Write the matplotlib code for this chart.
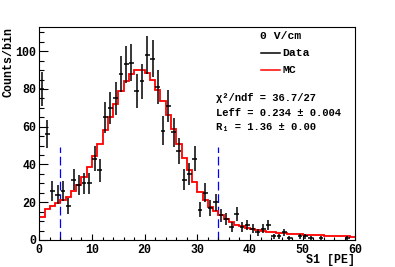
import numpy as np
import matplotlib
matplotlib.use("Agg")
import matplotlib.pyplot as plt
from matplotlib.lines import Line2D
from matplotlib.ticker import MultipleLocator

plt.rcParams['font.family'] = ['Liberation Mono', 'DejaVu Sans Mono']
plt.rcParams['font.weight'] = 'bold'

# ---- data ----
data_x = [0.5, 1.5, 2.5, 3.5, 4.5, 5.5, 6.5, 7.5, 8.5, 9.5,
          10.5, 11.5, 12.5, 13.5, 14.5, 15.5, 16.5, 17.5, 18.5, 19.5,
          20.5, 21.5, 22.5, 23.5, 24.5, 25.5, 26.5, 27.5, 28.5, 29.5,
          30.5, 31.5, 32.5, 33.5, 34.5, 35.5, 36.5, 37.5, 38.5, 39.5,
          40.5, 41.5, 42.5, 43.5, 44.5, 45.5, 46.5, 47.5, 49.5, 50.5,
          51.5, 53.5, 58.5]
data_y = [80, 56, 26, 24, 26, 18, 32, 29, 30, 30,
          43, 37, 65, 70, 75, 88, 93, 94, 79, 84,
          98, 96, 81, 58, 71, 57, 47, 32, 35, 43,
          16, 25, 17, 20, 13, 11, 7, 14, 7, 8,
          6, 4, 6, 8, 2, 2, 4, 1, 2, 2,
          1, 1, 1]
mc_edges = list(range(0, 61))
mc_y = [12.3, 16.2, 18.0, 19.4, 21.0, 22.9, 25.7, 29.0, 33.5, 38.5,
        44.4, 50.8, 58.2, 65.4, 72.3, 79.0, 84.3, 88.2, 90.2, 90.2,
        88.5, 84.7, 79.7, 73.5, 66.0, 58.6, 51.0, 43.7, 37.0, 30.9,
        25.4, 21.2, 17.6, 15.3, 13.2, 11.1, 9.7, 8.2, 7.2, 6.4,
        5.7, 5.2, 4.8, 4.4, 4.1, 3.8, 3.6, 3.4, 3.2, 3.0,
        2.8, 2.7, 2.5, 2.4, 2.3, 2.2, 2.1, 2.0, 1.9, 1.8]
cut_x = [4, 34]
cut_top = 49.5
x_ticks = [0, 10, 20, 30, 40, 50, 60]
y_ticks = [0, 20, 40, 60, 80, 100]

W, H = 395, 267
fig = plt.figure(figsize=(W / 100, H / 100), dpi=100)
ax = fig.add_axes([39.3 / W, 1 - 240 / H, 316 / W, 213.3 / H])

ax.stairs(mc_y, mc_edges, baseline=None, color='#ff0000', lw=1.3, zorder=2)
ax.errorbar(data_x, data_y, yerr=np.sqrt(data_y), xerr=0.45, fmt='none',
            ecolor='black', elinewidth=1.1, capsize=0, zorder=3)
ax.vlines(cut_x, 0, cut_top, colors='#0000ff', lw=0.9, linestyles=(0, (7, 3)), zorder=1)

ax.set_xlim(0, 60)
ax.set_ylim(0, 113)
ax.set_xticks(x_ticks)
ax.set_yticks(y_ticks)
ax.xaxis.set_minor_locator(MultipleLocator(2))
ax.yaxis.set_minor_locator(MultipleLocator(5))
ax.tick_params(axis='x', which='major', direction='in', length=6.4 * 0.72, width=0.8,
               labelsize=8.4, pad=3, top=False)
ax.tick_params(axis='x', which='minor', direction='in', length=3.2 * 0.72, width=0.8, top=False)
ax.tick_params(axis='y', which='major', direction='in', length=9 * 0.72, width=0.8,
               labelsize=8.4, pad=2, right=False)
ax.tick_params(axis='y', which='minor', direction='in', length=4.5 * 0.72, width=0.8, right=False)
for lab in ax.get_xticklabels() + ax.get_yticklabels():
    lab.set_fontweight('bold')
for s in ax.spines.values():
    s.set_linewidth(0.8)

def fx(px):
    return px / W

def fy(py):
    return 1 - py / H

fig.text(fx(9), fy(26.7), 'Counts/bin', rotation=90, ha='center', va='top',
         fontsize=8.4, fontweight='bold')
fig.text(fx(355.5), fy(260.5), 'S1 [PE]', ha='right', va='center',
         fontsize=8.4, fontweight='bold')

fig.text(fx(281), fy(36), '0 V/cm', ha='center', va='center', fontsize=8.2, fontweight='bold')
fig.add_artist(Line2D([fx(261), fx(280)], [fy(53.3), fy(53.3)], color='black', lw=1.1))
fig.text(fx(282.5), fy(53.3), 'Data', ha='left', va='center', fontsize=8.2, fontweight='bold')
fig.add_artist(Line2D([fx(261), fx(280)], [fy(70.3), fy(70.3)], color='#ff0000', lw=1.1))
fig.text(fx(282.5), fy(70.3), 'MC', ha='left', va='center', fontsize=8.2, fontweight='bold')

fig.text(fx(216.5), fy(98), 'χ²/ndf = 36.7/27', ha='left', va='center', fontsize=7.6, fontweight='bold')
fig.text(fx(216.5), fy(112.7), 'Leff = 0.234 ± 0.004', ha='left', va='center', fontsize=7.6, fontweight='bold')
fig.text(fx(216.5), fy(126.7), 'R₁ = 1.36 ± 0.00', ha='left', va='center', fontsize=7.6, fontweight='bold')

fig.savefig('out.png', dpi=100)
